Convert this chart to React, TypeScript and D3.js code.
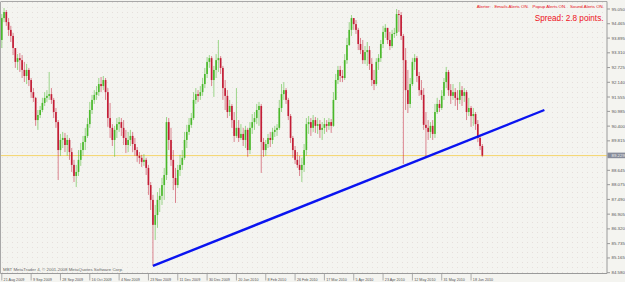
import React from "react";
import * as d3 from "d3";

const W = 625;
const H = 282;

const firstOpen = 93.82;
const closes = [
  94.69, 94.93, 94.53, 94.22, 93.98, 93.5, 92.95, 93.1, 93.02, 92.63,
  92.39, 92.63, 92.23, 91.75, 91.52, 90.64, 90.84, 91.04, 91.32, 91.52,
  91.6, 91.67, 91.44, 90.96, 90.56, 89.45, 89.85, 89.93, 89.65, 89.85,
  89.37, 88.86, 88.42, 88.58, 89.06, 89.45, 89.77, 90.01, 90.48, 91.04,
  91.44, 91.64, 91.75, 92.07, 91.99, 92.23, 91.75, 90.72, 90.33, 89.85,
  90.25, 90.48, 90.56, 90.33, 89.93, 89.65, 89.85, 90.01, 89.69, 89.45,
  89.22, 89.14, 88.98, 89.06, 88.74, 88.06, 87.47, 86.48, 86.87, 87.47,
  87.63, 88.06, 88.46, 90.56, 89.85, 89.06, 88.34, 88.06, 88.66, 88.86,
  89.14, 89.85, 90.17, 90.45, 90.72, 91.44, 91.67, 91.6, 91.75, 92.07,
  92.47, 92.95, 93.1, 92.23, 92.63, 93.02, 93.1, 92.71, 91.91, 91.6,
  90.96, 91.2, 90.64, 90.01, 90.33, 89.93, 90.09, 89.85, 90.25, 89.45,
  90.33, 90.56, 90.72, 91.04, 91.2, 89.77, 89.45, 89.69, 89.93, 89.85,
  90.17, 90.25, 90.33, 91.12, 91.67, 91.83, 91.44, 90.8, 89.93, 89.45,
  89.06, 88.86, 88.66, 88.86, 89.45, 90.48, 90.56, 90.33, 90.64, 90.41,
  90.48, 90.25, 90.33, 90.48, 90.41, 90.56, 90.41, 91.44, 92.23, 92.63,
  92.39, 92.31, 93.02, 93.62, 94.22, 94.69, 94.45, 94.22, 93.66, 93.42,
  93.02, 93.34, 93.42, 92.87, 92.23, 92.07, 92.95, 93.1, 93.66, 94.14,
  94.3, 93.82, 93.58, 94.06, 94.1, 94.85, 94.81, 93.98, 93.02, 91.83,
  91.28, 92.07, 92.95, 93.1, 92.39, 91.83, 91.64, 90.45, 90.33, 90.17,
  90.41, 90.09, 90.96, 91.28, 91.12, 91.6, 92.15, 92.55, 91.83, 91.6,
  91.75, 91.52, 91.44, 91.83, 91.6, 91.75, 90.96, 91.12, 90.8, 90.88,
  90.48, 89.93, 89.61, 89.229,
];
const highs = [
  94.85, 95.09, 95.01, 94.69, 94.38, 94.1, 93.5, 93.26, 93.3, 93.22,
  92.95, 92.87, 92.71, 92.31, 91.91, 91.56, 91.04, 91.2, 91.52, 91.75,
  91.83, 92.55, 91.91, 91.52, 91.12, 90.64, 90.09, 90.17, 90.13, 90.05,
  89.93, 89.53, 89.06, 88.86, 89.45, 89.73, 90.01, 90.33, 90.72, 91.36,
  91.64, 91.83, 91.99, 92.31, 92.35, 92.39, 92.31, 91.91, 91.32, 90.48,
  90.41, 90.72, 90.76, 90.72, 90.64, 90.25, 90.17, 90.25, 90.17, 89.93,
  89.57, 89.37, 89.26, 89.29, 89.14, 88.86, 88.18, 87.67, 87.27, 87.78,
  87.94, 88.34, 88.74, 90.76, 90.72, 90.33, 89.45, 88.74, 88.86, 89.26,
  89.45, 90.17, 90.45, 90.72, 90.92, 91.75, 91.91, 91.83, 91.99, 92.31,
  92.71, 93.14, 93.22, 93.18, 92.79, 93.26, 93.82, 93.18, 92.79, 92.23,
  91.83, 91.44, 91.28, 90.96, 91.91, 90.64, 90.48, 90.33, 90.41, 90.33,
  90.56, 90.88, 90.96, 91.28, 91.36, 91.28, 89.93, 89.85, 90.09, 90.17,
  90.33, 90.41, 90.48, 91.44, 92.07, 92.15, 91.91, 91.52, 90.88, 90.01,
  89.61, 89.37, 89.22, 89.14, 89.69, 90.72, 90.8, 90.72, 90.84, 90.76,
  90.72, 90.64, 90.56, 90.72, 90.64, 90.72, 90.68, 91.75, 92.47, 92.79,
  92.79, 92.63, 93.26, 93.9, 94.53, 94.81, 94.69, 94.61, 94.3, 93.9,
  93.82, 93.58, 93.74, 93.58, 93.1, 92.63, 93.1, 93.26, 93.82, 94.38,
  94.45, 94.3, 94.14, 94.22, 94.3, 95.05, 95.01, 94.93, 94.06, 93.5,
  92.63, 92.31, 93.1, 93.26, 93.18, 92.55, 92.23, 91.91, 90.96, 90.64,
  90.56, 90.64, 91.28, 91.52, 91.44, 91.83, 92.31, 92.75, 92.63, 92.07,
  92.07, 91.91, 91.83, 92.15, 91.99, 91.91, 91.83, 91.52, 91.2, 91.12,
  90.96, 90.64, 90.01, 89.69,
];
const lows = [
  93.5, 94.53, 94.38, 93.98, 93.74, 93.22, 92.71, 92.63, 92.55, 92.31,
  92.15, 92.07, 91.99, 91.52, 91.36, 90.41, 90.25, 90.72, 90.96, 91.2,
  91.36, 91.44, 91.28, 90.72, 90.33, 88.26, 89.22, 89.53, 89.37, 89.22,
  89.06, 88.58, 88.18, 87.98, 88.42, 88.82, 89.22, 89.45, 89.93, 90.33,
  90.88, 91.28, 91.44, 91.6, 91.75, 91.83, 91.44, 90.37, 89.93, 89.61,
  89.18, 89.93, 90.17, 90.01, 89.65, 89.33, 89.37, 89.61, 89.37, 89.22,
  88.98, 88.9, 88.78, 88.82, 88.46, 87.67, 87.07, 84.85, 85.88, 86.36,
  86.99, 87.27, 87.47, 88.26, 89.45, 88.82, 87.86, 87.35, 87.94, 88.42,
  88.66, 89.06, 89.53, 90.05, 90.33, 90.64, 91.28, 91.36, 91.44, 91.6,
  91.91, 92.31, 92.71, 91.99, 91.56, 92.31, 92.55, 92.47, 91.44, 91.04,
  90.72, 90.8, 90.33, 89.77, 89.93, 89.77, 89.85, 89.61, 89.53, 89.18,
  89.29, 90.09, 90.25, 90.48, 90.41, 88.54, 89.18, 89.22, 89.53, 89.57,
  89.69, 89.97, 90.01, 90.25, 90.96, 91.44, 91.28, 90.64, 89.73, 89.14,
  88.9, 88.74, 88.42, 88.18, 88.58, 89.22, 90.09, 90.01, 90.17, 90.13,
  90.09, 89.93, 89.85, 90.09, 90.17, 90.25, 90.13, 90.37, 91.44, 92.07,
  92.15, 92.15, 92.23, 92.87, 93.58, 93.98, 94.22, 94.06, 93.42, 93.26,
  92.87, 92.87, 92.79, 92.63, 91.99, 91.83, 91.99, 92.63, 92.95, 93.5,
  93.9, 93.66, 93.42, 93.5, 93.9, 93.98, 94.14, 93.82, 88.9, 91.04,
  90.92, 91.12, 91.99, 92.63, 92.15, 91.6, 91.44, 90.25, 89.15, 89.85,
  89.93, 89.85, 89.93, 90.88, 90.96, 91.04, 91.44, 91.91, 91.6, 91.28,
  91.44, 91.2, 91.04, 91.28, 91.2, 91.36, 90.64, 90.8, 90.37, 90.41,
  90.25, 89.77, 89.45, 89.18,
];

const dateLabels = [
  "21 Aug 2009", "9 Sep 2009", "28 Sep 2009", "16 Oct 2009", "4 Nov 2009",
  "23 Nov 2009", "11 Dec 2009", "30 Dec 2009", "20 Jan 2010", "8 Feb 2010",
  "26 Feb 2010", "17 Mar 2010", "5 Apr 2010", "23 Apr 2010", "12 May 2010",
  "31 May 2010", "18 Jun 2010",
];
const barsPerLabel = 13;

const priceTicks = [
  95.05, 94.465, 93.895, 93.31, 92.725, 92.14, 91.555, 90.985, 90.4, 89.815,
  88.645, 88.075, 87.49, 86.905, 86.32, 85.735, 85.165, 84.58,
];
const currentPrice = 89.229;

const trendBars = [67, 240.5];
const trendPrices = [84.85, 91.04];

const alertText = "Alerter:   Emails Alerts ON.   Popup Alerts ON.   Sound Alerts ON.";
const spreadText = "Spread: 2.8 points.";
const copyrightText = "MBT MetaTrader 4, \u00a9 2001-2008 MetaQuotes Software Corp.";

export default function App() {
  const n = closes.length;
  const x = d3.scaleLinear().domain([0, 1]).range([1.8, 1.8 + 2.256]);
  const y = d3.scaleLinear().domain([84.58, 95.05]).range([272.7, 9]);
  const axisX = 607;
  const axisY = 273.5;

  const bars = d3.range(n).map((i) => {
    const o = i === 0 ? firstOpen : closes[i - 1];
    const c = closes[i];
    return { i, o, c, h: Math.max(highs[i], o, c), l: Math.min(lows[i], o, c) };
  });

  const trendLine = d3
    .line<number>()
    .x((_, k) => x(trendBars[k]))
    .y((p) => y(p));

  const font = "'Liberation Sans', Arial, sans-serif";

  return (
    <svg
      width={W}
      height={H}
      style={{ position: "absolute", left: 0, top: 0, display: "block" }}
    >
      <defs>
        <pattern id="dots" width="5" height="5" patternUnits="userSpaceOnUse">
          <rect x="2" y="2" width="1" height="1" fill="#e6dfdc" />
        </pattern>
        <clipPath id="plot">
          <rect x={1} y={2} width={axisX - 1} height={axisY - 2} />
        </clipPath>
      </defs>
      <rect x={0} y={0} width={W} height={H} fill="#f4f4f0" />
      <rect x={1} y={2} width={axisX - 1} height={axisY - 2} fill="url(#dots)" />

      {/* current price line */}
      <line
        x1={1}
        x2={axisX}
        y1={y(currentPrice)}
        y2={y(currentPrice)}
        stroke="#f4d46c"
        strokeWidth={1}
      />

      <g clipPath="url(#plot)">
        {bars.map((b) => {
          const up = b.c >= b.o;
          const col = up ? "#3fb51f" : "#c0102a";
          const top = y(Math.max(b.o, b.c));
          const bot = y(Math.min(b.o, b.c));
          return (
            <g key={b.i}>
              <line
                x1={x(b.i)}
                x2={x(b.i)}
                y1={y(b.h)}
                y2={y(b.l)}
                stroke={col}
                strokeOpacity={0.55}
                strokeWidth={0.9}
              />
              <rect
                x={x(b.i) - 0.85}
                y={top}
                width={1.7}
                height={Math.max(1, bot - top)}
                fill={col}
                fillOpacity={0.9}
              />
            </g>
          );
        })}
        <path
          d={trendLine(trendPrices) || ""}
          stroke="#0a14f0"
          strokeWidth={2.4}
          fill="none"
        />
      </g>

      {/* frame */}
      <line x1={0.5} x2={0.5} y1={2} y2={axisY} stroke="#a8a8a8" strokeWidth={1} />
      <line x1={0.5} x2={axisX} y1={1.5} y2={1.5} stroke="#a8a8a8" strokeWidth={1} />
      <line x1={axisX} x2={axisX} y1={1.5} y2={axisY} stroke="#9a9a9a" strokeWidth={1} />
      <line x1={0.5} x2={axisX} y1={axisY} y2={axisY} stroke="#9a9a9a" strokeWidth={1} />

      {/* price axis */}
      {priceTicks.map((p) => (
        <g key={p}>
          <line x1={axisX} x2={axisX + 3} y1={y(p)} y2={y(p)} stroke="#9a9a9a" />
          <text
            x={axisX + 4.5}
            y={y(p) + 1.5}
            fontSize={4.4}
            fontFamily={font}
            fill="#555"
          >
            {p.toFixed(3)}
          </text>
        </g>
      ))}
      <rect
        x={axisX + 0.5}
        y={y(currentPrice) - 3}
        width={W - axisX}
        height={5.6}
        fill="#878c9a"
      />
      <text
        x={axisX + 4.5}
        y={y(currentPrice) + 1.5}
        fontSize={4.4}
        fontFamily={font}
        fill="#eeeeee"
      >
        {currentPrice.toFixed(3)}
      </text>

      {/* time axis */}
      {dateLabels.map((d, k) => {
        const xx = x(k * barsPerLabel);
        return (
          <g key={d}>
            <line x1={xx} x2={xx} y1={axisY} y2={axisY + 7} stroke="#9a9a9a" strokeWidth={0.8} />
            <text x={xx + 1.8} y={280.5} fontSize={3.7} fontFamily={font} fill="#555">
              {d}
            </text>
          </g>
        );
      })}

      {/* texts */}
      <text
        x={604}
        y={8.3}
        fontSize={4.4}
        fontFamily={font}
        fill="#e8101a"
        textAnchor="end"
        style={{ whiteSpace: "pre" }}
      >
        {alertText}
      </text>
      <text
        x={603.5}
        y={20.8}
        fontSize={8.2}
        fontFamily={font}
        fill="#ee1020"
        textAnchor="end"
      >
        {spreadText}
      </text>
      <text x={3} y={271.3} fontSize={4.4} fontFamily={font} fill="#666">
        {copyrightText}
      </text>
    </svg>
  );
}
